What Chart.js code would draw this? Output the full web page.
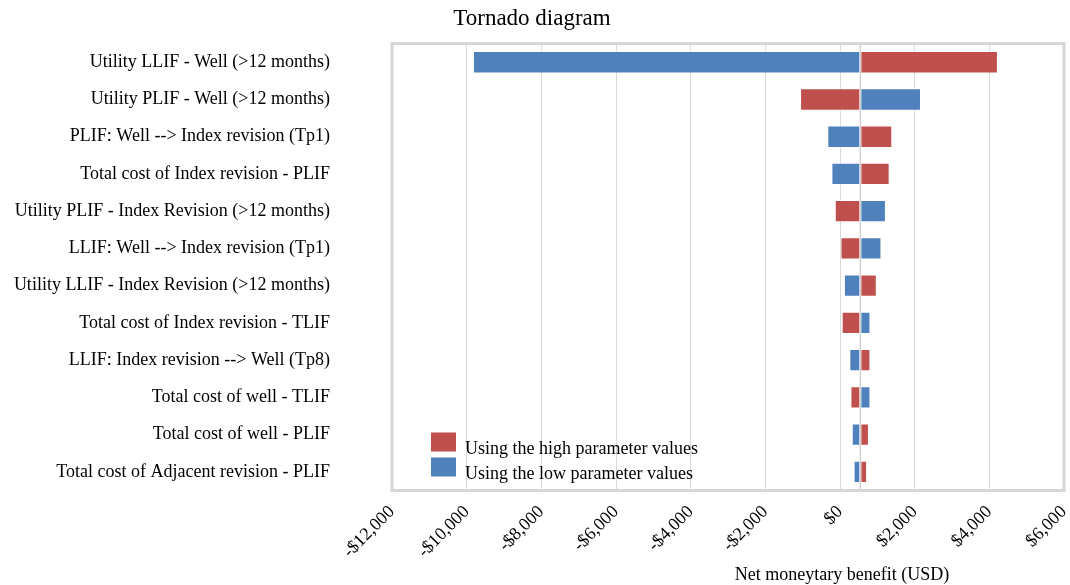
<!DOCTYPE html>
<html>
<head>
<meta charset="utf-8">
<script src="https://cdn.jsdelivr.net/npm/chart.js@4"></script>
<style>
  html, body { margin: 0; padding: 0; background: #ffffff; }
  #wrap { width: 1070px; height: 585px; }
</style>
</head>
<body>
<div id="wrap"><canvas id="tornadoChart"></canvas></div>
<script>
// parameters, top to bottom
const categories = [
    'Utility LLIF - Well (>12 months)',
    'Utility PLIF - Well (>12 months)',
    'PLIF: Well --> Index revision (Tp1)',
    'Total cost of Index revision - PLIF',
    'Utility PLIF - Index Revision (>12 months)',
    'LLIF: Well --> Index revision (Tp1)',
    'Utility LLIF - Index Revision (>12 months)',
    'Total cost of Index revision - TLIF',
    'LLIF: Index revision --> Well (Tp8)',
    'Total cost of well - TLIF',
    'Total cost of well - PLIF',
    'Total cost of Adjacent revision - PLIF'
];
// base case net monetary benefit (USD)
const baseValue = 545;
const highValues = [4230, -1070, 1400, 1330, -140, 0, 985, 45, 815, 280, 775, 725];
const lowValues = [-9830, 2170, -340, -230, 1230, 1110, 105, 815, 250, 815, 315, 365];
const xTicks = [-12000, -10000, -8000, -6000, -4000, -2000, 0, 2000, 4000, 6000];

const serif = "'Liberation Serif', 'Times New Roman', serif";
const RED = '#C0504D';
const BLUE = '#4F81BD';

function money(v) {
    return (v < 0 ? '-' : '') + '$' + Math.abs(v).toLocaleString('en-US');
}

function noPad(scale) {
    scale.paddingLeft = 0;
    scale.paddingRight = 0;
    scale.paddingTop = 0;
    scale.paddingBottom = 0;
}

const extras = {
    id: 'extras',
    afterDatasetsDraw(chart) {
        const { ctx, chartArea: a, scales } = chart;
        const xb = scales.x.getPixelForValue(baseValue);
        ctx.save();
        ctx.strokeStyle = '#d0d0d0';
        ctx.lineWidth = 1.5;
        ctx.beginPath();
        ctx.moveTo(xb, a.top);
        ctx.lineTo(xb, a.bottom);
        ctx.stroke();
        ctx.restore();
    },
    afterDraw(chart) {
        const { ctx, chartArea: a } = chart;
        ctx.save();
        // plot frame
        ctx.strokeStyle = '#d6d6d6';
        ctx.lineWidth = 3;
        ctx.strokeRect(a.left, a.top, a.right - a.left, a.bottom - a.top);

        // legend inside the plot, bottom left
        const items = chart.data.datasets;
        ctx.font = '18px ' + serif;
        ctx.textBaseline = 'alphabetic';
        ctx.textAlign = 'left';
        items.forEach((ds, i) => {
            const y = a.bottom - 58 + i * 25;
            ctx.fillStyle = ds.backgroundColor;
            ctx.fillRect(a.left + 39, y, 25, 19);
            ctx.fillStyle = '#000';
            ctx.fillText(ds.label, a.left + 73, y + 21);
        });

        // axis title
        ctx.textAlign = 'center';
        ctx.fillText('Net moneytary benefit (USD)', 842, 580);
        ctx.restore();
    }
};

new Chart(document.getElementById('tornadoChart'), {
    type: 'bar',
    data: {
        labels: categories,
        datasets: [
            {
                label: 'Using the high parameter values',
                data: highValues.map(v => [baseValue, v]),
                backgroundColor: RED,
                borderColor: 'rgba(255,255,255,0.55)',
                borderWidth: 1,
                borderSkipped: false,
                barPercentage: 0.6,
                categoryPercentage: 1
            },
            {
                label: 'Using the low parameter values',
                data: lowValues.map(v => [baseValue, v]),
                backgroundColor: BLUE,
                borderColor: 'rgba(255,255,255,0.55)',
                borderWidth: 1,
                borderSkipped: false,
                barPercentage: 0.6,
                categoryPercentage: 1
            }
        ]
    },
    options: {
        indexAxis: 'y',
        responsive: true,
        maintainAspectRatio: false,
        animation: false,
        layout: { padding: { left: 0, right: 6, top: 0, bottom: 0 } },
        plugins: {
            legend: { display: false },
            tooltip: { enabled: false },
            title: {
                display: true,
                text: 'Tornado diagram',
                color: '#000',
                font: { family: serif, size: 23, weight: 'normal' },
                padding: { top: 5, bottom: 11 }
            }
        },
        scales: {
            x: {
                min: -12000,
                max: 6000,
                afterBuildTicks: scale => { scale.ticks = xTicks.map(v => ({ value: v })); },
                afterFit: scale => { scale.height = 94.5; noPad(scale); },
                grid: { color: '#d9d9d9', lineWidth: 1, drawTicks: false },
                border: { display: false },
                ticks: {
                    color: '#000',
                    font: { family: serif, size: 18 },
                    minRotation: 45,
                    maxRotation: 45,
                    autoSkip: false,
                    padding: 11,
                    callback: v => money(v)
                }
            },
            y: {
                stacked: true,
                afterFit: scale => { scale.width = 392; noPad(scale); },
                grid: { display: false },
                border: { display: false },
                ticks: {
                    color: '#000',
                    font: { family: serif, size: 18 },
                    padding: 54
                }
            }
        }
    },
    plugins: [extras]
});
</script>
</body>
</html>
